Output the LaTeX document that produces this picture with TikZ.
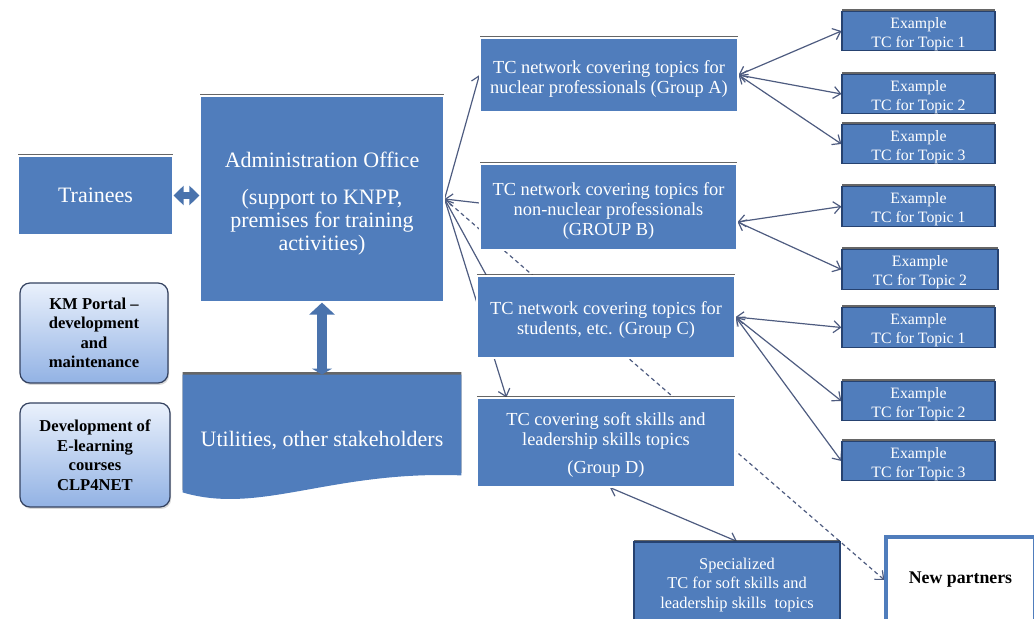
\documentclass[tikz,border=0pt]{standalone}
\usepackage{fontspec}
\setmainfont{Liberation Serif}
\usetikzlibrary{arrows.meta,shadows,backgrounds}
\definecolor{boxblue}{RGB}{80,125,188}
\definecolor{exborder}{RGB}{38,66,112}
\definecolor{linkcol}{RGB}{78,92,128}
\definecolor{kmtop}{RGB}{234,241,252}
\definecolor{kmbot}{RGB}{146,178,228}
\definecolor{kmborder}{RGB}{52,66,96}
\newcommand{\tallrow}[1]{\rule{0pt}{#1}}
\begin{document}
\begin{tikzpicture}[x=0.5pt,y=-0.5pt,
>={Straight Barb[length=3.5pt,width=6pt]},
base/.style={
draw=white,
line width=0.6pt,
fill=boxblue,
align=center,
inner sep=0pt,
drop shadow={shadow xshift=0pt,shadow yshift=1.2pt,opacity=0.8,fill=black!75},
},
wbig/.style={
text=white,
font={\fontsize{11pt}{11.5pt}\selectfont},
},
wmid/.style={
text=white,
font={\fontsize{9.2pt}{10pt}\selectfont},
},
wsmall/.style={
text=white,
font={\fontsize{7.9pt}{9.6pt}\selectfont},
},
grp/.style={
base,
wmid,
minimum width=129pt,
},
ex/.style={
base,
wsmall,
draw=exborder,
minimum width=76.5pt,
minimum height=19.5pt,
},
km/.style={
rounded corners=5pt,
draw=kmborder,
line width=0.6pt,
top color=kmtop,
bottom color=kmbot,
align=center,
inner sep=0pt,
minimum width=74pt,
font={\bfseries\fontsize{8.3pt}{9.75pt}\selectfont},
drop shadow={shadow xshift=0.6pt,shadow yshift=-1pt,opacity=0.3},
},
link/.style={
draw=linkcol,
line width=0.6pt,
},
dlink/.style={
link,
dash pattern=on 2pt off 1.6pt,
->,
},
blockarrow/.style={
draw=boxblue!92!black,
line width=3.6pt,
{Triangle[width=9.5pt,length=5pt]}-{Triangle[width=9.5pt,length=5pt]},
},
]
\useasboundingbox (0,0) rectangle (1034,619);
\clip (0,0) rectangle (1034,619);

% left column
\node[base,wbig,minimum width=77.5pt,minimum height=39.5pt] (trainees) at (95.5,195.5) {Trainees};
\node[base,wbig,minimum width=122pt,minimum height=103pt] (admin) at (322,199) {\tallrow{12.6pt}Administration Office\\[7pt](support to KNPP,\\premises for training\\activities)};
\node[km,minimum height=50pt] (kmportal) at (94,333) {KM Portal --\\development\\and\\maintenance};
\node[km,minimum width=75pt,minimum height=52pt] (elearn) at (95,455) {Development of\\E-learning\\courses\\CLP4NET};
\node[wbig,inner sep=0pt,minimum width=139pt,minimum height=66pt] (util) at (322,441) {Utilities, other stakeholders};

% groups
\node[grp,minimum height=37pt] (grpA) at (609,75) {\tallrow{10.3pt}TC network covering topics for\\nuclear professionals (Group A)};
\node[grp,minimum width=128.5pt,minimum height=43pt] (grpB) at (608.5,207) {\tallrow{10.5pt}TC network covering topics for\\non-nuclear professionals\\(GROUP B)};
\node[grp,minimum height=41pt] (grpC) at (606,317) {\tallrow{9.6pt}TC network covering topics for\\students, etc. (Group C)};
\node[grp,minimum height=44.5pt] (grpD) at (606,442.5) {\tallrow{9.3pt}TC covering soft skills and\\leadership skills topics\\[4pt](Group D)};

% examples
\node[ex] (exA1) at (918.5,31) {\tallrow{8.5pt}Example\\TC for Topic 1};
\node[ex] (exA2) at (918.5,94) {\tallrow{8.5pt}Example\\TC for Topic 2};
\node[ex] (exA3) at (918.5,144) {\tallrow{8.5pt}Example\\TC for Topic 3};
\node[ex] (exB1) at (918.5,206.5) {\tallrow{8.5pt}Example\\TC for Topic 1};
\node[ex,minimum width=78pt] (exB2) at (920,269.5) {\tallrow{8.5pt}Example\\TC for Topic 2};
\node[ex] (exC1) at (918.5,327.5) {\tallrow{8.5pt}Example\\TC for Topic 1};
\node[ex] (exC2) at (918.5,401) {\tallrow{8.5pt}Example\\TC for Topic 2};
\node[ex] (exC3) at (918.5,461) {\tallrow{8.5pt}Example\\TC for Topic 3};

% bottom
\node[base,wsmall,draw=exborder,minimum width=103pt,minimum height=43pt,font={\fontsize{8.2pt}{9.75pt}\selectfont}] (spec) at (737,585) {Specialized\\TC for soft skills and\\leadership skills\ \ topics};
\node[draw=boxblue,line width=1.6pt,fill=white,inner sep=0pt,minimum width=74.5pt,minimum height=43pt,font={\bfseries\fontsize{8.9pt}{10pt}\selectfont}] (newp) at (960.5,580) {New partners};

\begin{scope}[on background layer]
\fill[boxblue,drop shadow={shadow xshift=0pt,shadow yshift=1.2pt,opacity=0.8,fill=black!75}] (util.north west) -- (util.north east) -- ([yshift=16pt]util.south east) .. controls +(-131,-5) and +(77,23) .. ([yshift=7.5pt]util.south west) -- cycle;
\draw[dlink] (admin.east) -- (newp.west);
\draw[link,->] (admin.east) -- (grpA.west);
\draw[link,->] ([yshift=2pt]grpB.west) -- (admin.east);
\draw[link,->] ([xshift=5pt]grpC.north west) -- (admin.east);
\draw[link,->] (admin.east) -- ([xshift=15pt]grpD.north west);
\draw[link,<->] (grpA.east) -- (exA1.west);
\draw[link,<->] (grpA.east) -- (exA2.west);
\draw[link,<->] (grpA.east) -- (exA3.west);
\draw[link,<->] ([yshift=-7.5pt]grpB.east) -- (exB1.west);
\draw[link,<->] ([yshift=-7.5pt]grpB.east) -- (exB2.west);
\draw[link,<->] (grpC.east) -- (exC1.west);
\draw[link,<->] (grpC.east) -- (exC2.west);
\draw[link,<->] (grpC.east) -- (exC3.west);
\draw[link,<->] ([xshift=2pt]grpD.south) -- (spec.north);
\end{scope}

\draw[blockarrow] (trainees.east) -- (trainees.east -| admin.west);
\draw[blockarrow,line width=5pt,{Triangle[width=12.5pt,length=6pt]}-{Triangle[width=10pt,length=3pt]}] (admin.south) -- (util.north);
\end{tikzpicture}
\end{document}
